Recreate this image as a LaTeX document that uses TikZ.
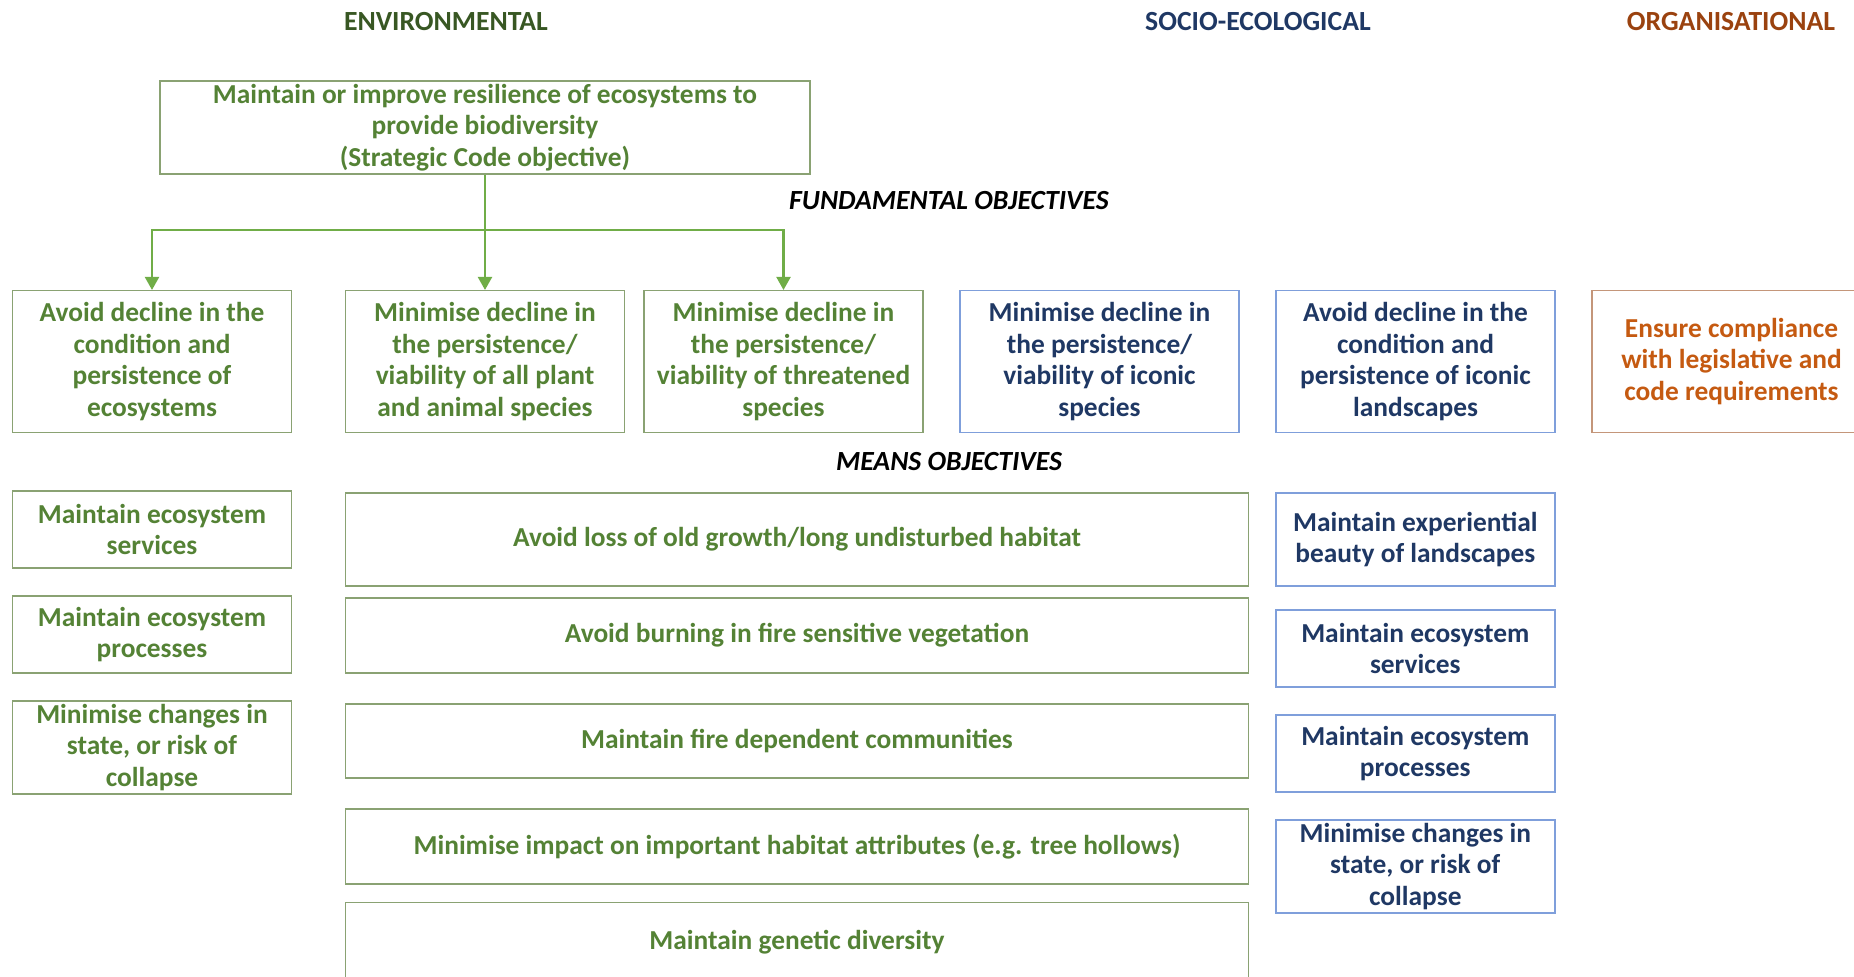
\documentclass[tikz,border=0pt]{standalone}
\usepackage{fontspec}
\setmainfont{Carlito}
\usepackage{tikz}
\usetikzlibrary{arrows.meta,positioning}
\usepackage{xcolor}
\definecolor{envtext}{HTML}{548235}
\definecolor{envhead}{HTML}{385723}
\definecolor{envline}{HTML}{8AA273}
\definecolor{envarrow}{HTML}{70AD47}
\definecolor{soctext}{HTML}{1F3864}
\definecolor{socline}{HTML}{7F9FDB}
\definecolor{orgtext}{HTML}{C55A11}
\definecolor{orghead}{HTML}{9A420F}
\definecolor{orgline}{HTML}{C4967A}
\newcommand{\objfont}{\fontsize{27.4bp}{31.4bp}\selectfont\bfseries}
\tikzstyle{objective}=[draw, line width=1.5bp, inner sep=0pt, align=center, font=\objfont, minimum width=279bp]
\tikzstyle{env obj}=[objective, draw=envline, text=envtext]
\tikzstyle{soc obj}=[objective, draw=socline, text=soctext]
\tikzstyle{org obj}=[objective, draw=orgline, text=orgtext]
\tikzstyle{column title}=[font=\fontsize{27.7bp}{32bp}\selectfont\bfseries]
\tikzstyle{level title}=[font=\fontsize{27.7bp}{32bp}\selectfont\bfseries\itshape, text=black]
\tikzstyle{branch}=[-{Triangle[width=14bp,length=13bp]}, line width=2.2bp, envarrow]

\begin{document}
\begin{tikzpicture}[x=1bp, y=-1bp]
        \clip (0,0) rectangle (1854,976);

        % Titoli delle colonne
        \node[column title, text=envhead] (t_env) at (446,22) {ENVIRONMENTAL};
        \node[column title, text=soctext] (t_soc) at (1258,22) {SOCIO-ECOLOGICAL};
        \node[column title, text=orghead] (t_org) at (1731,22) {ORGANISATIONAL};

        % Obiettivo strategico
        \node[env obj, minimum width=650bp, minimum height=93bp] (strategic) at (485,127.5)
            {Maintain or improve resilience of ecosystems to\\provide biodiversity\\(Strategic Code objective)};
        \node[level title] (t_fund) at (949,201) {FUNDAMENTAL OBJECTIVES};

        % Obiettivi fondamentali
        \node[env obj, minimum height=141.6bp] (f_cond) at (152,361.5) {Avoid decline in the\\condition and\\persistence of\\ecosystems};
        \node[env obj, minimum height=141.6bp] (f_all) at (485,361.5) {Minimise decline in\\the persistence/\\viability of all plant\\and animal species};
        \node[env obj, minimum height=141.6bp] (f_threat) at (783.5,361.5) {Minimise decline in\\the persistence/\\viability of threatened\\species};
        \node[soc obj, minimum height=141.6bp] (f_iconic) at (1099.5,361.5) {Minimise decline in\\the persistence/\\viability of iconic\\species};
        \node[soc obj, minimum height=141.6bp] (f_land) at (1415.5,361.5) {Avoid decline in the\\condition and\\persistence of iconic\\landscapes};
        \node[org obj, minimum height=141.6bp] (f_comply) at (1731.5,361.5) {Ensure compliance\\with legislative and\\code requirements};

        % Frecce
        \coordinate (fork) at (485,230);
        \draw[branch] (strategic.south) -- (f_all.north);
        \draw[branch] (fork) -| (f_cond.north);
        \draw[branch] (fork) -| (f_threat.north);

        \node[level title] (t_means) at (949,462) {MEANS OBJECTIVES};

        % Mezzi - colonna sinistra
        \node[env obj, minimum height=77.3bp] (m_serv) at (152,529.4) {Maintain ecosystem\\services};
        \node[env obj, minimum height=77bp] (m_proc) at (152,634.5) {Maintain ecosystem\\processes};
        \node[env obj, minimum height=92.7bp] (m_state) at (152,747.4) {Minimise changes in\\state, or risk of\\collapse};

        % Mezzi - colonna centrale
        \node[env obj, minimum width=903bp, minimum height=92.7bp] (m_old) at (797,539.4) {Avoid loss of old growth/long undisturbed habitat};
        \node[env obj, minimum width=903bp, minimum height=75bp] (m_burn) at (797,635.5) {Avoid burning in fire sensitive vegetation};
        \node[env obj, minimum width=903bp, minimum height=74bp] (m_fire) at (797,741) {Maintain fire dependent communities};
        \node[env obj, minimum width=903bp, minimum height=74.7bp] (m_hollow) at (797,846.4) {Minimise impact on important habitat attributes (e.g. tree hollows)};
        \node[env obj, minimum width=903bp, minimum height=79bp] (m_genetic) at (797,942) {Maintain genetic diversity};

        % Mezzi - colonna socio-ecologica
        \node[soc obj, minimum height=92.7bp] (s_beauty) at (1415.3,539.4) {Maintain experiential\\beauty of landscapes};
        \node[soc obj, minimum height=76.7bp] (s_serv) at (1415.3,648.4) {Maintain ecosystem\\services};
        \node[soc obj, minimum height=77bp] (s_proc) at (1415.3,753.5) {Maintain ecosystem\\processes};
        \node[soc obj, minimum height=93bp] (s_state) at (1415.3,866.5) {Minimise changes in\\state, or risk of\\collapse};
    \end{tikzpicture}
\end{document}
